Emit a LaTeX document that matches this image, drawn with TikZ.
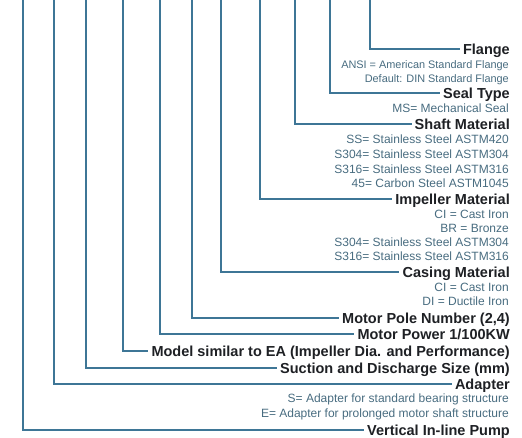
\documentclass[tikz,border=0pt]{standalone}
\usepackage{fontspec}
\setmainfont{Liberation Sans}
\usetikzlibrary{calc,positioning}
\definecolor{leadblue}{RGB}{62,118,150}
\definecolor{notegray}{RGB}{72,108,128}
\definecolor{titleink}{RGB}{30,32,36}
\tikzset{
  lead/.style={draw=leadblue, line width=1.3pt},
  title/.style={anchor=east, font=\fontsize{14.5}{14}\selectfont\bfseries, text=titleink,
    text height=10.4pt, text depth=0pt, inner sep=3pt},
  note/.style={anchor=east, font=\fontsize{12}{12}\selectfont, text=notegray,
    text height=8.6pt, text depth=0pt, inner sep=0pt},
  smallnote/.style={note, font=\fontsize{10.9}{11}\selectfont}
}

\begin{document}
\begin{tikzpicture}[x=1pt,y=-1pt]
  \useasboundingbox (0,0) rectangle (522,437);
  % one leader per code position, left to right
  \foreach \nm/\xx/\yy/\txt in {
      flange/370/49/{Flange},
      seal/330/93/{Seal Type},
      shaft/295/124/{Shaft Material},
      impeller/260/199/{Impeller Material},
      casing/221/272/{Casing Material},
      pole/192/318/{Motor Pole Number (2,4)},
      power/160/334/{Motor Power 1/100KW},
      model/123/351/{Model similar to EA (Impeller Dia. and Performance)},
      size/86/368/{Suction and Discharge Size (mm)},
      adapter/54/384/{Adapter},
      pump/23/430/{Vertical In-line Pump}}{
    \coordinate (\nm top) at (\xx,0);
    \node[title] (\nm) at (513,\yy) {\txt};
    \draw[lead] (\nm top) |- (\nm.west);
  }
  % option lists under the titles
  \node[smallnote] (flange1) at (509,64) {ANSI = American Standard Flange};
  \node[smallnote] (flange2) at (509,78) {Default: DIN Standard Flange};
  \node[note] (seal1) at (509,108) {MS= Mechanical Seal};
  \node[note] (shaft1) at (509,139) {SS= Stainless Steel ASTM420};
  \node[note] (shaft2) at (509,154) {S304= Stainless Steel ASTM304};
  \node[note] (shaft3) at (509,169) {S316= Stainless Steel ASTM316};
  \node[note] (shaft4) at (509,183) {45= Carbon Steel ASTM1045};
  \node[note] (impeller1) at (509,214) {CI = Cast Iron};
  \node[note] (impeller2) at (509,228) {BR = Bronze};
  \node[note] (impeller3) at (509,242) {S304= Stainless Steel ASTM304};
  \node[note] (impeller4) at (509,256) {S316= Stainless Steel ASTM316};
  \node[note] (casing1) at (509,287) {CI = Cast Iron};
  \node[note] (casing2) at (509,301) {DI = Ductile Iron};
  \node[note] (adapter1) at (509,398) {S= Adapter for standard bearing structure};
  \node[note] (adapter2) at (509,413) {E= Adapter for prolonged motor shaft structure};
\end{tikzpicture}
\end{document}
